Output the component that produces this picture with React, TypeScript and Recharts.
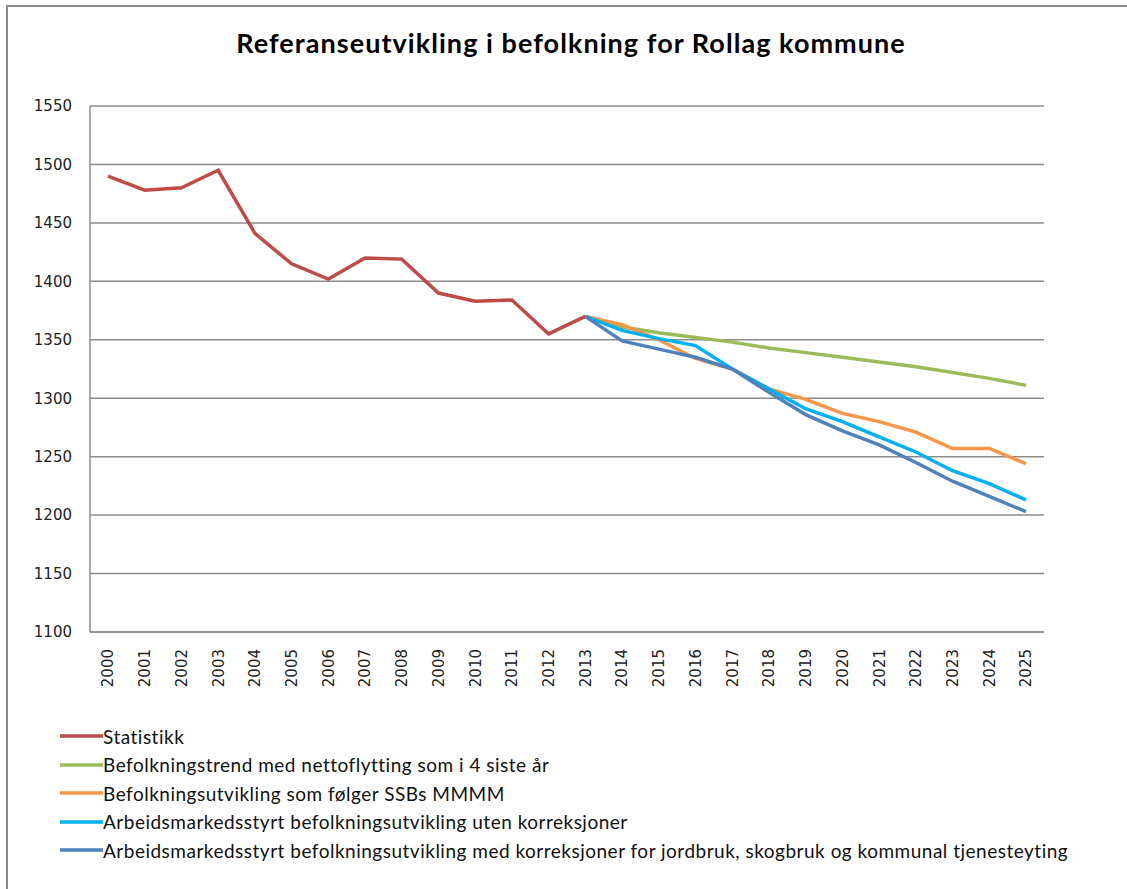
import { LineChart, Line, XAxis, YAxis, CartesianGrid, Legend } from 'recharts';

const years = [
  '2000', '2001', '2002', '2003', '2004', '2005', '2006', '2007', '2008', '2009', '2010', '2011', '2012',
  '2013', '2014', '2015', '2016', '2017', '2018', '2019', '2020', '2021', '2022', '2023', '2024', '2025',
];

// statistics up to 2013, projections from 2013
const statistikk = [1490, 1478, 1480, 1495, 1441, 1415, 1402, 1420, 1419, 1390, 1383, 1384, 1355, 1370];
const trend = [1370, 1361, 1356, 1352, 1348, 1343, 1339, 1335, 1331, 1327, 1322, 1317, 1311];
const ssb = [1370, 1363, 1350, 1334, 1325, 1308, 1299, 1287, 1280, 1271, 1257, 1257, 1244];
const utenKorr = [1370, 1358, 1351, 1345, 1325, 1308, 1291, 1280, 1267, 1254, 1238, 1227, 1213];
const medKorr = [1370, 1349, 1342, 1335, 1325, 1305, 1286, 1272, 1260, 1245, 1229, 1216, 1203];

const yTicks = [1100, 1150, 1200, 1250, 1300, 1350, 1400, 1450, 1500, 1550];

const series = [
  { key: 'statistikk', name: 'Statistikk', color: '#BE4B48' },
  { key: 'trend', name: 'Befolkningstrend med nettoflytting som i 4 siste år', color: '#9BBB59' },
  { key: 'ssb', name: 'Befolkningsutvikling som følger SSBs MMMM', color: '#F79646' },
  { key: 'utenKorr', name: 'Arbeidsmarkedsstyrt befolkningsutvikling uten korreksjoner', color: '#00B0F0' },
  {
    key: 'medKorr',
    name: 'Arbeidsmarkedsstyrt befolkningsutvikling med korreksjoner for jordbruk, skogbruk og kommunal tjenesteyting',
    color: '#4F81BD',
  },
];

const projStart = statistikk.length - 1;

const data = years.map((year, i) => ({
  year,
  statistikk: i < statistikk.length ? statistikk[i] : null,
  trend: i >= projStart ? trend[i - projStart] : null,
  ssb: i >= projStart ? ssb[i - projStart] : null,
  utenKorr: i >= projStart ? utenKorr[i - projStart] : null,
  medKorr: i >= projStart ? medKorr[i - projStart] : null,
}));

const YearTick = ({ x, y, payload }: any) => (
  <g transform={`translate(${x},${y + 15})`}>
    <text transform="rotate(-90)" textAnchor="end" dy="0.36em" fontSize={15} fontFamily="DejaVu Sans" fill="#222">
      {payload.value}
    </text>
  </g>
);

const LegendBox = () => (
  <div style={{ fontFamily: 'Lato', fontSize: 19, letterSpacing: 0.5, color: '#111' }}>
    {series.map((s) => (
      <div key={s.key} style={{ display: 'flex', alignItems: 'center', height: 28.5 }}>
        <svg width={43} height={6}>
          <line x1={0} y1={3} x2={43} y2={3} stroke={s.color} strokeWidth={3.5} />
        </svg>
        <span style={{ whiteSpace: 'nowrap' }}>{s.name}</span>
      </div>
    ))}
  </div>
);

export default function App() {
  return (
    <div style={{ position: 'absolute', left: 0, top: 0, width: 1127, height: 889, background: '#fff' }}>
      <div
        style={{
          position: 'absolute',
          left: 6,
          top: 5,
          width: 1127,
          height: 889,
          borderLeft: '2px solid #8c8c8c',
          borderTop: '2px solid #8c8c8c',
        }}
      />
      <div
        style={{
          position: 'absolute',
          left: 0,
          top: 26,
          width: 1142,
          textAlign: 'center',
          fontFamily: 'Lato',
          fontWeight: 700,
          fontSize: 27,
          letterSpacing: 1.05,
          color: '#000',
        }}
      >
        Referanseutvikling i befolkning for Rollag kommune
      </div>
      <div style={{ position: 'absolute', left: 0, top: 0 }}>
        <LineChart width={1127} height={889} data={data} margin={{ top: 106, right: 83, left: 0, bottom: 187 }}>
          <CartesianGrid vertical={false} stroke="#8c8c8c" strokeWidth={1.5} />
          <XAxis
            dataKey="year"
            interval={0}
            height={70}
            tickSize={0}
            padding={{ left: 18, right: 18 }}
            tick={<YearTick />}
            axisLine={{ stroke: '#8c8c8c', strokeWidth: 1.5 }}
          />
          <YAxis
            domain={[1100, 1550]}
            ticks={yTicks}
            width={90}
            tickSize={0}
            tickMargin={18}
            tickLine={false}
            axisLine={{ stroke: '#8c8c8c', strokeWidth: 1.5 }}
            tick={{ fontSize: 15, fontFamily: 'DejaVu Sans', fill: '#222' }}
          />
          <Legend
            layout="vertical"
            align="center"
            verticalAlign="middle"
            wrapperStyle={{ left: 60, top: 722, width: 1060 }}
            content={<LegendBox />}
          />
          {series.map((s) => (
            <Line
              key={s.key}
              dataKey={s.key}
              name={s.name}
              stroke={s.color}
              strokeWidth={3.5}
              dot={false}
              activeDot={false}
              connectNulls={false}
              isAnimationActive={false}
            />
          ))}
        </LineChart>
      </div>
    </div>
  );
}
